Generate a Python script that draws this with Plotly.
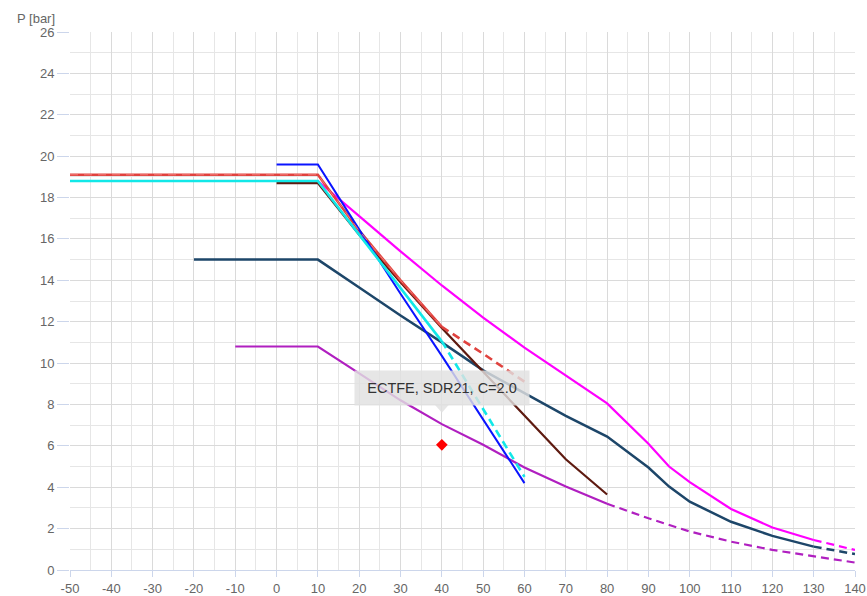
import plotly.graph_objects as go

# ---- data (temperature °C, pressure bar) ----
red_x = [-50, 10, 20, 30, 40, 50, 60]
red_y = [19.1, 19.1, 16.4, 14.0, 11.75, 10.45, 9.1]

cyan_x = [-50, 10, 20, 30, 40, 50, 60]
cyan_y = [18.8, 18.8, 16.2, 13.6, 11.05, 7.8, 4.5]

blue_x = [0, 10, 20, 30, 40, 50, 60]
blue_y = [19.6, 19.6, 16.45, 13.35, 10.35, 7.3, 4.2]

brown_x = [0, 10, 20, 30, 40, 50, 60, 70, 80]
brown_y = [18.7, 18.7, 16.2, 13.9, 11.7, 9.6, 7.5, 5.35, 3.65]

magenta_x = [-20, 10, 20, 30, 40, 50, 60, 70, 80, 90, 95, 100, 110, 120, 130, 140]
magenta_y = [18.8, 18.8, 17.1, 15.4, 13.75, 12.2, 10.75, 9.4, 8.05, 6.1, 5.0, 4.25, 2.95, 2.05, 1.45, 0.97]

navy_x = [-20, 10, 20, 30, 40, 50, 60, 70, 80, 90, 95, 100, 110, 120, 130, 140]
navy_y = [15.0, 15.0, 13.65, 12.3, 11.0, 9.65, 8.55, 7.45, 6.45, 4.95, 4.03, 3.3, 2.33, 1.65, 1.13, 0.77]

purple_x = [-10, 10, 20, 30, 40, 50, 60, 70, 80, 90, 100, 110, 120, 130, 140]
purple_y = [10.8, 10.8, 9.5, 8.2, 7.05, 6.05, 4.95, 4.03, 3.2, 2.5, 1.86, 1.37, 0.97, 0.65, 0.36]

point_x = [40]
point_y = [6.05]
point_label = "ECTFE, SDR21, C=2.0"

x_ticks = list(range(-50, 141, 10))
y_ticks = list(range(0, 27, 2))

# ---- styles: (x, y, color, width, index where dashed part starts or None) ----
series = [
    (navy_x, navy_y, "#1d4669", 2.5, 14),
    (purple_x, purple_y, "#b01fc0", 2.2, 8),
    (magenta_x, magenta_y, "#ff00ff", 2.2, 14),
    (brown_x, brown_y, "#5e1a10", 2.2, None),
    (red_x, red_y, "#e0423e", 2.6, 4),
    (blue_x, blue_y, "#0a14ff", 2.0, None),
    (cyan_x, cyan_y, "#12e8e8", 2.6, 4),
]

fig = go.Figure()
for xs, ys, col, w, k in series:
    if k is None:
        fig.add_trace(go.Scatter(x=xs, y=ys, mode="lines",
                                 line=dict(color=col, width=w), hoverinfo="skip"))
    else:
        fig.add_trace(go.Scatter(x=xs[:k + 1], y=ys[:k + 1], mode="lines",
                                 line=dict(color=col, width=w), hoverinfo="skip"))
        fig.add_trace(go.Scatter(x=xs[k:], y=ys[k:], mode="lines",
                                 line=dict(color=col, width=w, dash="8px,5px"),
                                 hoverinfo="skip"))

# light dash overlay on red solid part
fig.add_trace(go.Scatter(x=red_x[:5], y=red_y[:5], mode="lines",
                         line=dict(color="#f07a76", width=1.0, dash="8px,6px"),
                         hoverinfo="skip"))

fig.add_trace(go.Scatter(x=point_x, y=point_y, mode="markers",
                         marker=dict(symbol="diamond", size=9, color="#ff0000",
                                     line=dict(width=0)),
                         hoverinfo="skip"))

font_fam = "Liberation Sans, Arial, sans-serif"

fig.add_annotation(x=point_x[0], y=point_y[0], xref="x", yref="y",
                   text=point_label, showarrow=False, yshift=57,
                   font=dict(family=font_fam, size=14.5, color="#333333"),
                   bgcolor="rgba(224,224,224,0.82)", borderpad=8,
                   width=158, height=18)
fig.add_shape(type="path", xref="x", yref="y", xsizemode="pixel", ysizemode="pixel",
              xanchor=point_x[0], yanchor=point_y[0],
              path="M -7,40 L 7,40 L 0,32 Z",
              fillcolor="rgba(224,224,224,0.82)", line=dict(width=0))

fig.add_annotation(xref="paper", yref="paper", x=-0.0166, y=1.026,
                   xanchor="right", yanchor="middle", text="P [bar]",
                   showarrow=False,
                   font=dict(family=font_fam, size=13, color="#666666"))

fig.update_layout(
    width=867, height=596,
    margin=dict(l=70, r=12, t=32, b=26),
    plot_bgcolor="#ffffff", paper_bgcolor="#ffffff",
    showlegend=False,
    font=dict(family=font_fam, size=13, color="#666666"),
    xaxis=dict(range=[-50, 140], tickvals=x_ticks, ticktext=[str(v) for v in x_ticks],
               showgrid=True, gridcolor="#dadada", gridwidth=1.3, automargin=False,
               minor=dict(dtick=5, tick0=0, showgrid=True, gridcolor="#e6e6e6", gridwidth=1.3),
               zeroline=False, showline=True, linecolor="#ccd6eb", linewidth=1,
               ticks="outside", ticklen=6, tickcolor="#ccd6eb",
               tickfont=dict(size=13, color="#666666")),
    yaxis=dict(range=[0, 26], tickvals=y_ticks, ticktext=[str(v) for v in y_ticks],
               showgrid=True, gridcolor="#dadada", gridwidth=1.3, automargin=False,
               minor=dict(dtick=1, tick0=0, showgrid=True, gridcolor="#e6e6e6", gridwidth=1.3),
               zeroline=False, showline=False,
               ticks="outside", ticklen=12, tickcolor="#ccd6eb",
               tickfont=dict(size=13, color="#666666")),
)

fig.write_html("out.html", config={"displayModeBar": False},
               post_script="document.body.style.margin='0';")
